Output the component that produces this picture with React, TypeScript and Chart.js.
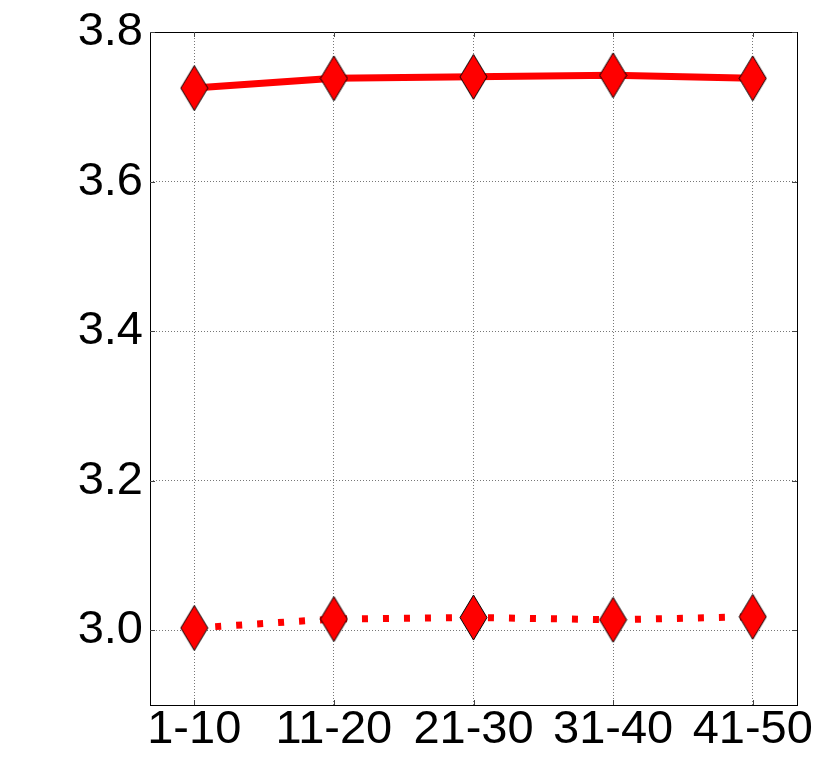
import React, { useEffect, useRef } from "react";
import { Chart, registerables } from "chart.js";

Chart.register(...registerables);

const categories = ["1-10", "11-20", "21-30", "31-40", "41-50"];
const solidSeries = [3.725, 3.738, 3.740, 3.742, 3.738];
const dottedSeries = [3.003, 3.015, 3.017, 3.014, 3.018];
const yTicks = [3.0, 3.2, 3.4, 3.6, 3.8];

function makeDiamond(w: number, h: number): HTMLCanvasElement {
  const c = document.createElement("canvas");
  c.width = w + 2;
  c.height = h + 2;
  const ctx = c.getContext("2d")!;
  const cx = c.width / 2;
  const cy = c.height / 2;
  ctx.beginPath();
  ctx.moveTo(cx, cy - h / 2);
  ctx.lineTo(cx + w / 2, cy);
  ctx.lineTo(cx, cy + h / 2);
  ctx.lineTo(cx - w / 2, cy);
  ctx.closePath();
  ctx.fillStyle = "#ff0000";
  ctx.fill();
  ctx.lineWidth = 1;
  ctx.strokeStyle = "#000000";
  ctx.stroke();
  return c;
}

const framePlugin = {
  id: "frame",
  beforeDatasetsDraw(chart: any) {
    const { ctx, chartArea } = chart;
    ctx.save();
    ctx.strokeStyle = "#000";
    ctx.lineWidth = 1;
    ctx.strokeRect(
      Math.round(chartArea.left) + 0.5,
      Math.round(chartArea.top) + 0.5,
      Math.round(chartArea.right - chartArea.left),
      Math.round(chartArea.bottom - chartArea.top)
    );
    ctx.restore();
  },
  afterDraw(chart: any) {
    const { ctx, chartArea, scales } = chart;
    const len = 5;
    ctx.save();
    ctx.strokeStyle = "#444";
    ctx.lineWidth = 1;
    ctx.beginPath();
    scales.x.ticks.forEach((t: any) => {
      const x = Math.round(scales.x.getPixelForValue(t.value)) + 0.5;
      ctx.moveTo(x, chartArea.bottom);
      ctx.lineTo(x, chartArea.bottom - len);
      ctx.moveTo(x, chartArea.top);
      ctx.lineTo(x, chartArea.top + len);
    });
    scales.y.ticks.forEach((t: any) => {
      const y = Math.round(scales.y.getPixelForValue(t.value)) + 0.5;
      ctx.moveTo(chartArea.left, y);
      ctx.lineTo(chartArea.left + len, y);
      ctx.moveTo(chartArea.right, y);
      ctx.lineTo(chartArea.right - len, y);
    });
    ctx.stroke();
    ctx.restore();
  },
};

export default function App() {
  const ref = useRef<HTMLCanvasElement>(null);
  useEffect(() => {
    if (!ref.current) return;
    const diamond = makeDiamond(27, 45);
    const family = "'Liberation Sans', Arial, sans-serif";
    const chart = new Chart(ref.current, {
      type: "line",
      data: {
        datasets: [
          {
            data: solidSeries.map((v, i) => ({ x: i, y: v })),
            borderColor: "#ff0000",
            borderWidth: 7,
            pointStyle: diamond as any,
            pointRadius: 14,
            tension: 0,
          },
          {
            data: dottedSeries.map((v, i) => ({ x: i, y: v })),
            borderColor: "#ff0000",
            borderWidth: 7,
            borderDash: [6, 15],
            pointStyle: diamond as any,
            pointRadius: 14,
            tension: 0,
          },
        ],
      },
      options: {
        animation: false,
        responsive: false,
        layout: { padding: { left: 0, right: 33, top: 32, bottom: 0 } },
        plugins: { legend: { display: false }, tooltip: { enabled: false } },
        scales: {
          x: {
            type: "linear",
            min: -0.317,
            max: 4.317,
            z: 1,
            afterBuildTicks: (axis: any) => {
              axis.ticks = categories.map((_, i) => ({ value: i }));
            },
            afterFit: (axis: any) => {
              axis.height = 62;
            },
            ticks: {
              autoSkip: false,
              maxRotation: 0,
              padding: -3,
              color: "#000",
              font: { family, size: 47 },
              callback: (v: any) => categories[Math.round(Number(v))] ?? "",
            },
            grid: {
              color: "#777",
              lineWidth: 1,
              drawTicks: false,
            },
            border: { display: false, dash: [1, 2] },
          },
          y: {
            min: 2.9,
            max: 3.8,
            z: 1,
            afterBuildTicks: (axis: any) => {
              axis.ticks = yTicks.map((v) => ({ value: v }));
            },
            afterFit: (axis: any) => {
              axis.width = 150;
            },
            ticks: {
              padding: 7,
              color: "#000",
              font: { family, size: 47, lineHeight: 1 },
              callback: (v: any) => Number(v).toFixed(1),
            },
            grid: {
              color: "#777",
              lineWidth: 1,
              drawTicks: false,
            },
            border: { display: false, dash: [1, 2] },
          },
        },
      },
      plugins: [framePlugin],
    });
    return () => chart.destroy();
  }, []);
  return (
    <div style={{ position: "absolute", left: 0, top: 0, width: 830, height: 767, background: "#fff" }}>
      <canvas ref={ref} width={830} height={767} />
    </div>
  );
}
